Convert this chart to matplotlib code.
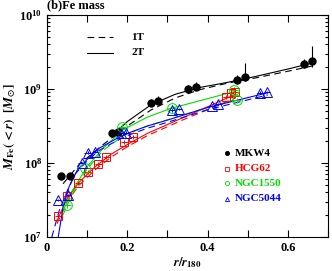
import numpy as np
import matplotlib
matplotlib.use("Agg")
import matplotlib.pyplot as plt
from matplotlib.ticker import MultipleLocator, LogLocator, NullFormatter

plt.rcParams['font.family'] = ['Liberation Serif', 'DejaVu Serif']
plt.rcParams['mathtext.fontset'] = 'stix'
plt.rcParams['font.weight'] = 'bold'

# data points (r/r180, log10 M_Fe)
mkw4_r = [0.035, 0.057, 0.163, 0.178, 0.259, 0.277, 0.351, 0.370, 0.474, 0.494, 0.640, 0.659]
mkw4_logm = [7.82, 7.82, 8.40, 8.42, 8.81, 8.84, 9.00, 9.03, 9.12, 9.16, 9.34, 9.38]
mkw4_up = [0.02, 0.02, 0.04, 0.05, 0.05, 0.06, 0.06, 0.07, 0.07, 0.19, 0.07, 0.20]
mkw4_lo = [0.02, 0.02, 0.04, 0.04, 0.04, 0.05, 0.05, 0.05, 0.05, 0.05, 0.06, 0.08]

hcg62_r = [0.027, 0.049, 0.077, 0.101, 0.128, 0.148, 0.193, 0.215, 0.447, 0.459, 0.469]
hcg62_logm = [7.28, 7.55, 7.73, 7.88, 7.99, 8.08, 8.28, 8.35, 8.89, 8.95, 8.96]

ngc1550_r = [0.049, 0.094, 0.188, 0.311, 0.466, 0.474]
ngc1550_logm = [7.43, 7.93, 8.49, 8.75, 8.99, 8.85]

ngc5044_r = [0.027, 0.052, 0.086, 0.101, 0.119, 0.185, 0.198, 0.311, 0.328, 0.410, 0.427, 0.531, 0.548]
ngc5044_logm = [7.50, 7.57, 8.00, 8.14, 8.15, 8.40, 8.41, 8.71, 8.73, 8.77, 8.80, 8.95, 8.96]

# model profiles: 1T (dashed) and 2T (solid)
mkw4_1t_r = [0.04, 0.08, 0.14, 0.2, 0.26, 0.32, 0.38, 0.45, 0.52, 0.6, 0.66]
mkw4_1t_logm = [7.72, 7.98, 8.25, 8.5, 8.72, 8.88, 8.99, 9.08, 9.15, 9.24, 9.31]
mkw4_2t_r = [0.16, 0.2, 0.26, 0.32, 0.38, 0.45, 0.52, 0.6, 0.66]
mkw4_2t_logm = [8.36, 8.56, 8.79, 8.93, 9.02, 9.09, 9.17, 9.27, 9.35]

hcg62_mod_r = [0.025, 0.05, 0.08, 0.12, 0.16, 0.2, 0.25, 0.3, 0.35, 0.4, 0.47]
hcg62_2t_logm = [7.22, 7.52, 7.74, 7.95, 8.12, 8.25, 8.4, 8.52, 8.64, 8.76, 8.93]
hcg62_1t_logm = [7.18, 7.48, 7.70, 7.91, 8.08, 8.22, 8.37, 8.49, 8.61, 8.72, 8.88]

ngc1550_mod_r = [0.04, 0.06, 0.1, 0.14, 0.19, 0.25, 0.31, 0.4, 0.47]
ngc1550_2t_logm = [7.35, 7.6, 7.95, 8.2, 8.45, 8.62, 8.74, 8.87, 8.97]
ngc1550_1t_logm = [7.3, 7.55, 7.92, 8.17, 8.37, 8.5, 8.6, 8.75, 8.86]

ngc5044_2t_r = [0.028, 0.04, 0.055, 0.075, 0.1, 0.13, 0.17, 0.2, 0.25, 0.3, 0.4, 0.55]
ngc5044_2t_logm = [7.0, 7.4, 7.68, 7.9, 8.05, 8.2, 8.32, 8.4, 8.5, 8.58, 8.75, 8.95]
ngc5044_1t_r = [0.012, 0.03, 0.05, 0.07, 0.1, 0.13, 0.17, 0.2, 0.25, 0.3, 0.4, 0.55]
ngc5044_1t_logm = [7.0, 7.35, 7.62, 7.85, 8.03, 8.17, 8.29, 8.37, 8.47, 8.55, 8.72, 8.92]

fig = plt.figure(figsize=(3.32, 2.71), dpi=100)
ax = fig.add_axes([0.1416, 0.1255, 0.8464, 0.8191])

def m(logm):
    return 10 ** np.array(logm)

lw = 0.8
dash = (0, (6, 4))
green = '#00dd00'
# model lines
ax.plot(mkw4_1t_r, m(mkw4_1t_logm), color='black', ls=dash, lw=lw)
ax.plot(mkw4_2t_r, m(mkw4_2t_logm), color='black', ls='-', lw=lw)
ax.plot(hcg62_mod_r, m(hcg62_1t_logm), color='red', ls=dash, lw=lw)
ax.plot(hcg62_mod_r, m(hcg62_2t_logm), color='red', ls='-', lw=lw)
ax.plot(ngc1550_mod_r, m(ngc1550_1t_logm), color=green, ls=dash, lw=lw)
ax.plot(ngc1550_mod_r, m(ngc1550_2t_logm), color=green, ls='-', lw=lw)
ax.plot(ngc5044_1t_r, m(ngc5044_1t_logm), color='blue', ls=dash, lw=lw)
ax.plot(ngc5044_2t_r, m(ngc5044_2t_logm), color='blue', ls='-', lw=lw)

# data points
mk = m(mkw4_logm)
yerr = [mk * (1 - 10 ** -np.array(mkw4_lo)), mk * (10 ** np.array(mkw4_up) - 1)]
ax.errorbar(mkw4_r, mk, yerr=yerr, xerr=0.008, fmt='o', color='black', ms=5,
            elinewidth=0.8, capsize=0)
ax.errorbar(hcg62_r, m(hcg62_logm), yerr=m(hcg62_logm) * 0.06, xerr=0.008, fmt='s',
            mfc='none', mec='red', ecolor='red', ms=6, mew=0.7, elinewidth=0.7, capsize=0)
ax.errorbar(ngc1550_r, m(ngc1550_logm), yerr=m(ngc1550_logm) * 0.08, xerr=0.01, fmt='o',
            mfc='none', mec=green, ecolor=green, ms=7, mew=0.7, elinewidth=0.7, capsize=0)
ax.errorbar(ngc5044_r, m(ngc5044_logm), yerr=m(ngc5044_logm) * 0.04, xerr=0.008, fmt='^',
            mfc='none', mec='blue', ecolor='blue', ms=6.5, mew=0.7, elinewidth=0.7, capsize=0)

ax.set_xlim(0, 0.7)
ax.set_yscale('log')
ax.set_ylim(1e7, 1e10)

ax.set_xticks([0, 0.2, 0.4, 0.6])
ax.set_xticklabels(['0', '0.2', '0.4', '0.6'])
ax.xaxis.set_minor_locator(MultipleLocator(0.1))
ax.yaxis.set_major_locator(LogLocator(base=10, numticks=10))
ax.yaxis.set_minor_locator(LogLocator(base=10, subs=np.arange(2, 10), numticks=10))
ax.yaxis.set_minor_formatter(NullFormatter())
ax.tick_params(which='both', direction='in', top=True, right=True, labelsize=9, width=0.8)
ax.tick_params(which='major', length=5)
ax.tick_params(axis='x', which='minor', length=5)
ax.tick_params(axis='y', which='minor', length=2.5)
for s in ax.spines.values():
    s.set_linewidth(0.8)

ax.set_xlabel(r'$r/r_{180}$', fontsize=9, labelpad=1)
ax.set_ylabel(r'$M_{\rm Fe}(<r)\ \ [M_{\odot}]$', fontsize=9.5, labelpad=1)
ax.text(0.0, 1.015, '(b)Fe mass', transform=ax.transAxes, fontsize=9, ha='left', va='bottom')

# 1T / 2T legend
ax.plot([0.1, 0.165], [5.0e9, 5.0e9], color='black', ls=dash, lw=lw)
ax.plot([0.1, 0.165], [3.1e9, 3.1e9], color='black', ls='-', lw=lw)
ax.text(0.21, 5.0e9, '1T', fontsize=8, va='center')
ax.text(0.21, 3.1e9, '2T', fontsize=8, va='center')

# group legend
names = ['MKW4', 'HCG62', 'NGC1550', 'NGC5044']
colors = ['black', 'red', green, 'blue']
markers = ['o', 's', 'o', '^']
fills = ['black', 'none', 'none', 'none']
ys = [1.35e8, 8.4e7, 5.3e7, 3.3e7]
for name, c, mkr, f, y in zip(names, colors, markers, fills, ys):
    ax.plot([0.448], [y], marker=mkr, color=c, mfc=f, ms=3, mew=0.6)
    ax.text(0.468, y, name, color=c, fontsize=8, va='center')

fig.savefig('out.png', dpi=100)
